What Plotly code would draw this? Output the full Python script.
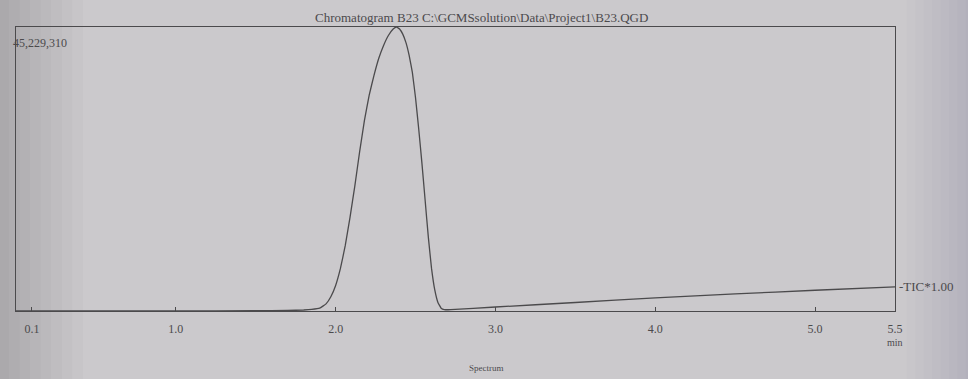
import plotly.graph_objects as go

# Total ion chromatogram, sample B23
retention_min = [0.0, 0.5, 1.0, 1.5, 1.7, 1.8, 1.85, 1.90, 1.94, 1.97, 2.00, 2.03,
                 2.06, 2.09, 2.12, 2.15, 2.18, 2.21, 2.24, 2.27, 2.30, 2.33, 2.36,
                 2.38, 2.40, 2.42, 2.44, 2.46, 2.48, 2.50, 2.52, 2.54, 2.56, 2.58,
                 2.60, 2.62, 2.64, 2.66, 2.68, 2.72, 3.0, 3.5, 4.0, 4.5, 5.0, 5.5]
relative_pct = [0.0, 0.0, 0.05, 0.1, 0.2, 0.35, 0.55, 1.0, 2.5, 5.0, 9.0, 15.0,
                23.0, 33.0, 44.0, 56.0, 67.0, 76.0, 83.0, 89.0, 93.5, 97.0, 99.3,
                100.0, 99.3, 97.5, 94.5, 90.0, 84.0, 75.0, 64.0, 52.0, 39.0, 26.0,
                15.0, 7.5, 3.0, 1.0, 0.5, 0.45, 1.4, 3.0, 4.6, 6.0, 7.3, 8.5]
max_intensity = 45229310

tick_vals = [0.1, 1.0, 2.0, 3.0, 4.0, 5.0, 5.5]
tick_text = ["0.1", "1.0", "2.0", "3.0", "4.0", "5.0", "5.5"]

title_text = "Chromatogram B23 C:\\GCMSsolution\\Data\\Project1\\B23.QGD"
trace_label = "TIC*1.00"

intensity = [p / 100.0 * max_intensity for p in relative_pct]

ink = "#4b4a4c"
paper = "#cbc9cc"
serif = "Liberation Serif"

fig = go.Figure()
fig.add_trace(go.Scatter(
    x=retention_min, y=intensity, mode="lines",
    line=dict(color=ink, width=1.3, shape="spline", smoothing=0.25),
    hoverinfo="skip", showlegend=False,
))

# soft darkening toward the left and right edges of the sheet
shade = []
for i in range(8):
    w = 0.012 * (i + 1)
    shade.append(dict(type="rect", xref="paper", yref="paper", layer="below",
                      x0=-0.02, x1=-0.02 + w, y0=-0.25, y1=1.1,
                      fillcolor="rgba(40,40,45,0.022)", line=dict(width=0)))
    shade.append(dict(type="rect", xref="paper", yref="paper", layer="below",
                      x0=1.09 - w * 0.8, x1=1.09, y0=-0.25, y1=1.1,
                      fillcolor="rgba(40,40,45,0.012)", line=dict(width=0)))

fig.update_layout(
    width=968, height=379,
    margin=dict(l=16, r=73, t=27, b=68),
    paper_bgcolor=paper, plot_bgcolor="rgba(0,0,0,0)",
    font=dict(family=serif, color=ink, size=10),
    shapes=shade,
    xaxis=dict(
        range=[0, 5.5], tickvals=tick_vals, ticktext=tick_text,
        showgrid=False, zeroline=False, showline=True, linecolor=ink, linewidth=1.3,
        mirror=True, ticks="inside", ticklen=4, tickcolor=ink,
        tickfont=dict(family=serif, size=12, color=ink), ticklabelstandoff=6,
    ),
    yaxis=dict(
        range=[0, max_intensity], showticklabels=False, showgrid=False,
        zeroline=False, showline=True, linecolor=ink, linewidth=1.3, mirror=True,
        ticks="",
    ),
    annotations=[
        dict(text=title_text, x=0.53, y=1.0, xref="paper", yref="paper",
             xanchor="center", yanchor="bottom", showarrow=False,
             font=dict(size=13, family=serif, color=ink), yshift=0),
        dict(text=f"{max_intensity:,}", x=0, y=1, xref="paper", yref="paper",
             xanchor="left", yanchor="top", showarrow=False, xshift=-5, yshift=-7,
             font=dict(size=12, family=serif, color=ink)),
        dict(text="-" + trace_label, x=retention_min[-1], y=intensity[-1],
             xref="x", yref="y", xanchor="left", yanchor="middle", showarrow=False,
             xshift=2, font=dict(size=13, family=serif, color=ink)),
        dict(text="min", x=1, y=0, xref="paper", yref="paper", xanchor="center",
             yanchor="top", showarrow=False, yshift=-24,
             font=dict(size=10, family=serif, color=ink)),
        dict(text="Spectrum", x=0.535, y=0, xref="paper", yref="paper",
             xanchor="center", yanchor="top", showarrow=False, yshift=-50,
             font=dict(size=9, family=serif, color=ink)),
    ],
)

fig.write_html("out.html")
